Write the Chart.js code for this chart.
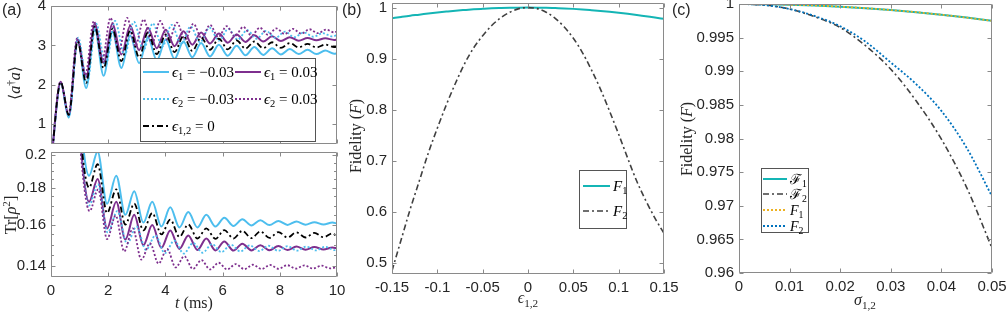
<!DOCTYPE html>
<html>
<head>
<meta charset="utf-8">
<script src="https://cdn.jsdelivr.net/npm/chart.js@4.4.1/dist/chart.umd.min.js"></script>
<style>
  body { margin: 0; background: #fff; }
  #wrap { position: relative; width: 1007px; height: 314px; overflow: hidden; }
  canvas { position: absolute; }
</style>
</head>
<body>
<div id="wrap">
  <canvas id="a1" width="345" height="150" style="left:0;top:0"></canvas>
  <canvas id="a2" width="345" height="169" style="left:0;top:145px"></canvas>
  <canvas id="b" width="340" height="314" style="left:340px;top:0"></canvas>
  <canvas id="c" width="337" height="314" style="left:670px;top:0"></canvas>
</div>
<script>
// ---- panel (a), top: <a†a> extrema ----
const tSolid = [0, 0.34, 0.62, 0.93, 1.23, 1.53, 1.84, 2.15, 2.46, 2.77, 3.08, 3.39, 3.70, 4.01, 4.32, 4.63, 4.94, 5.25, 5.56, 5.87, 6.18, 6.49, 6.80, 7.11, 7.42, 7.73, 8.04, 8.35, 8.66, 8.97, 9.28, 9.59, 9.90, 10];
const nEps1Neg = [0, 2.05, 1.17, 3.15, 1.92, 3.42, 2.23, 3.35, 2.43, 3.25, 2.55, 3.20, 2.62, 3.15, 2.66, 3.10, 2.70, 3.06, 2.72, 3.02, 2.74, 2.99, 2.75, 2.96, 2.76, 2.93, 2.77, 2.91, 2.78, 2.89, 2.78, 2.87, 2.79, 2.80];
const nEps1Pos = [0, 2.08, 1.23, 3.15, 2.20, 3.55, 2.56, 3.55, 2.77, 3.50, 2.88, 3.45, 2.93, 3.40, 2.98, 3.36, 3.02, 3.33, 3.05, 3.30, 3.07, 3.28, 3.09, 3.26, 3.10, 3.23, 3.11, 3.21, 3.12, 3.19, 3.13, 3.18, 3.14, 3.15];
const nEps0 = [0, 2.07, 1.24, 3.10, 2.05, 3.48, 2.42, 3.42, 2.60, 3.38, 2.70, 3.33, 2.78, 3.28, 2.83, 3.24, 2.86, 3.20, 2.89, 3.17, 2.90, 3.13, 2.92, 3.10, 2.93, 3.08, 2.94, 3.06, 2.95, 3.04, 2.95, 3.02, 2.96, 2.97];
const tEps2Neg = [0, 0.34, 0.62, 0.95, 1.26, 1.58, 1.91, 2.24, 2.57, 2.90, 3.23, 3.56, 3.89, 4.22, 4.55, 4.88, 5.21, 5.54, 5.87, 6.20, 6.53, 6.86, 7.19, 7.52, 7.85, 8.18, 8.51, 8.84, 9.17, 9.50, 9.83, 10];
const nEps2Neg = [0, 2.07, 1.20, 3.20, 2.05, 3.55, 2.50, 3.62, 2.75, 3.60, 2.88, 3.56, 2.97, 3.52, 3.03, 3.48, 3.08, 3.45, 3.12, 3.42, 3.15, 3.39, 3.17, 3.37, 3.19, 3.35, 3.21, 3.33, 3.22, 3.31, 3.23, 3.26];
const tEps2Pos = [0, 0.33, 0.61, 0.91, 1.20, 1.50, 1.79, 2.08, 2.37, 2.66, 2.95, 3.24, 3.53, 3.82, 4.11, 4.40, 4.69, 4.98, 5.27, 5.56, 5.85, 6.14, 6.43, 6.72, 7.01, 7.30, 7.59, 7.88, 8.17, 8.46, 8.75, 9.04, 9.33, 9.62, 9.91, 10];
const nEps2Pos = [0, 2.08, 1.25, 3.18, 2.25, 3.62, 2.62, 3.70, 2.85, 3.70, 2.98, 3.66, 3.05, 3.62, 3.10, 3.58, 3.15, 3.55, 3.18, 3.52, 3.21, 3.49, 3.23, 3.47, 3.25, 3.45, 3.27, 3.43, 3.29, 3.42, 3.30, 3.41, 3.31, 3.40, 3.33, 3.36];

// ---- panel (a), bottom: Tr[rho^2] ----
const uSolid = [0, 0.5, 1.0, 1.33, 1.63, 1.96, 2.28, 2.60, 2.91, 3.23, 3.54, 3.86, 4.17, 4.49, 4.80, 5.12, 5.43, 5.75, 6.06, 6.38, 6.69, 7.01, 7.32, 7.64, 7.95, 8.27, 8.58, 8.90, 9.21, 9.53, 9.84, 10];
const pEps1Neg = [1.0, 0.45, 0.23, 0.187, 0.202, 0.171, 0.187, 0.165, 0.178, 0.161, 0.172, 0.159, 0.169, 0.1585, 0.1665, 0.1585, 0.165, 0.159, 0.1635, 0.1593, 0.1627, 0.1595, 0.1622, 0.1597, 0.1618, 0.1598, 0.1615, 0.1599, 0.1612, 0.16, 0.161, 0.1605];
const pEps0 = [1.0, 0.45, 0.22, 0.180, 0.194, 0.166, 0.179, 0.160, 0.171, 0.157, 0.166, 0.155, 0.1625, 0.1538, 0.160, 0.153, 0.158, 0.1528, 0.1572, 0.153, 0.1568, 0.1532, 0.1565, 0.1533, 0.1562, 0.1535, 0.156, 0.1535, 0.1558, 0.1536, 0.1555, 0.154];
const pEps1Pos = [1.0, 0.45, 0.215, 0.172, 0.185, 0.158, 0.172, 0.1525, 0.165, 0.1498, 0.1597, 0.1485, 0.157, 0.148, 0.1545, 0.1475, 0.153, 0.1473, 0.1515, 0.1472, 0.1505, 0.1473, 0.1498, 0.1474, 0.1494, 0.1475, 0.1491, 0.1476, 0.1489, 0.1477, 0.1487, 0.1482];
const uEps2Neg = [0, 0.5, 1.0, 1.33, 1.64, 1.98, 2.32, 2.66, 2.99, 3.32, 3.65, 3.98, 4.31, 4.64, 4.97, 5.30, 5.63, 5.96, 6.29, 6.62, 6.95, 7.28, 7.61, 7.94, 8.27, 8.60, 8.93, 9.26, 9.59, 9.92, 10];
const pEps2Neg = [1.0, 0.45, 0.215, 0.170, 0.182, 0.156, 0.167, 0.1505, 0.159, 0.1475, 0.1545, 0.146, 0.152, 0.1458, 0.1508, 0.1462, 0.1503, 0.1465, 0.150, 0.1468, 0.1497, 0.147, 0.1495, 0.1471, 0.1493, 0.1472, 0.1491, 0.1473, 0.149, 0.1474, 0.1478];
const uEps2Pos = [0, 0.5, 1.0, 1.35, 1.65, 1.96, 2.26, 2.56, 2.86, 3.16, 3.46, 3.76, 4.06, 4.36, 4.66, 4.96, 5.26, 5.56, 5.86, 6.16, 6.46, 6.76, 7.06, 7.36, 7.66, 7.96, 8.26, 8.56, 8.86, 9.16, 9.46, 9.76, 10];
const pEps2Pos = [1.0, 0.45, 0.21, 0.167, 0.179, 0.1527, 0.1646, 0.1468, 0.158, 0.143, 0.1507, 0.1412, 0.148, 0.1395, 0.1446, 0.1388, 0.1428, 0.1386, 0.1416, 0.1386, 0.141, 0.1387, 0.1407, 0.1388, 0.1406, 0.1389, 0.1405, 0.139, 0.1404, 0.139, 0.1403, 0.1391, 0.1396];

// ---- panel (b) ----
const eps12 = [-0.15, -0.14, -0.13, -0.12, -0.11, -0.10, -0.09, -0.08, -0.07, -0.06, -0.05, -0.04, -0.03, -0.02, -0.01, 0, 0.01, 0.02, 0.03, 0.04, 0.05, 0.06, 0.07, 0.08, 0.09, 0.10, 0.11, 0.12, 0.13, 0.14, 0.15];
const fidB1 = [0.979, 0.9817, 0.9842, 0.9862, 0.9884, 0.9904, 0.9922, 0.9939, 0.9953, 0.9966, 0.9976, 0.9985, 0.9991, 0.9996, 0.9999, 1, 0.9999, 0.9996, 0.999, 0.9984, 0.9975, 0.9964, 0.995, 0.9935, 0.9918, 0.9899, 0.9878, 0.9855, 0.983, 0.9806, 0.978];
const fidB2 = [0.485, 0.545, 0.605, 0.66, 0.715, 0.764, 0.81, 0.852, 0.89, 0.921, 0.945, 0.965, 0.98, 0.991, 0.998, 1.0, 0.998, 0.991, 0.979, 0.962, 0.94, 0.912, 0.878, 0.84, 0.797, 0.752, 0.705, 0.66, 0.622, 0.588, 0.558];

// ---- panel (c) ----
const sig12 = [0, 0.005, 0.01, 0.015, 0.02, 0.025, 0.03, 0.035, 0.04, 0.045, 0.05];
const fidCcal1 = [1, 0.99998, 0.9999, 0.99978, 0.9996, 0.99938, 0.9991, 0.99878, 0.9984, 0.99798, 0.9975];
const fidCcal2 = [1, 0.99985, 0.99925, 0.9981, 0.9965, 0.9938, 0.9903, 0.9856, 0.9799, 0.9727, 0.9637];
const fidC1 = [1, 0.99998, 0.9999, 0.99978, 0.9996, 0.99938, 0.9991, 0.99878, 0.9984, 0.99798, 0.9975];
const fidC2 = [1, 0.99985, 0.99925, 0.9982, 0.9967, 0.9944, 0.9913, 0.9881, 0.9841, 0.9786, 0.9714];

// ---- ticks ----
const xTicksA = [0, 2, 4, 6, 8, 10];
const yTicksA1 = [1, 2, 3, 4];
const yTicksA2 = [0.14, 0.16, 0.18, 0.2];
const yMinorA2 = [0.145, 0.15, 0.155, 0.165, 0.17, 0.175, 0.185, 0.19, 0.195];
const xTicksB = [-0.15, -0.1, -0.05, 0, 0.05, 0.1, 0.15];
const yTicksB = [0.5, 0.6, 0.7, 0.8, 0.9, 1];
const xTicksC = [0, 0.01, 0.02, 0.03, 0.04, 0.05];
const yTicksC = [0.96, 0.965, 0.97, 0.975, 0.98, 0.985, 0.99, 0.995, 1];

const SANS = "'Liberation Sans', Arial, sans-serif";
const SERIF = "'Liberation Serif', 'DejaVu Serif', serif";
const LIGHTBLUE = '#4DBEEE', PURPLE = '#7E2F8E', TEAL = '#14B5B5', GREY = '#404040';

// rich text: parts are [text, style]; n normal, i italic, s subscript, u superscript
function partFont(style, size) {
  const s = (style === 's' || style === 'u') ? size * 0.7 : size;
  return (style === 'i' ? 'italic ' : '') + s + 'px ' + SERIF;
}
function richWidth(ctx, parts, size) {
  let w = 0;
  parts.forEach(([t, st]) => { ctx.font = partFont(st, size); w += ctx.measureText(t).width; });
  return w;
}
function drawRich(ctx, parts, x, y, size, align) {
  let cx = align === 'center' ? x - richWidth(ctx, parts, size) / 2 : x;
  const base = y + size * 0.33;
  ctx.textAlign = 'left';
  ctx.textBaseline = 'alphabetic';
  parts.forEach(([t, st]) => {
    ctx.font = partFont(st, size);
    const dy = st === 's' ? size * 0.22 : st === 'u' ? -size * 0.4 : 0;
    ctx.fillText(t, cx, base + dy);
    cx += ctx.measureText(t).width;
  });
}

const frameTicks = {
  id: 'frameTicks',
  afterDraw(chart, args, o) {
    const { ctx, chartArea: a } = chart;
    const xs = chart.scales.x, ys = chart.scales.y;
    ctx.save();
    const L = Math.round(a.left) + 0.5, R = Math.round(a.right) - 0.5;
    const T = Math.round(a.top) + 0.5, B = Math.round(a.bottom) - 0.5;
    ctx.strokeStyle = '#8a8a8a';
    ctx.lineWidth = 1;
    ctx.setLineDash([]);
    ctx.beginPath();
    ctx.rect(L, T, R - L, B - T);
    xs.ticks.forEach(t => {
      const p = Math.round(xs.getPixelForValue(t.value)) + 0.5;
      ctx.moveTo(p, B); ctx.lineTo(p, B - 4);
      ctx.moveTo(p, T); ctx.lineTo(p, T + 4);
    });
    ys.ticks.forEach(t => {
      const p = Math.round(ys.getPixelForValue(t.value)) + 0.5;
      ctx.moveTo(L, p); ctx.lineTo(L + 4, p);
      ctx.moveTo(R, p); ctx.lineTo(R - 4, p);
    });
    (o.yMinor || []).forEach(v => {
      const p = Math.round(ys.getPixelForValue(v)) + 0.5;
      ctx.moveTo(L, p); ctx.lineTo(L + 2.5, p);
      ctx.moveTo(R, p); ctx.lineTo(R - 2.5, p);
    });
    ctx.stroke();

    ctx.fillStyle = '#262626';
    ctx.font = '15px ' + SANS;
    if (o.xLabels) {
      ctx.textAlign = 'center';
      ctx.textBaseline = 'top';
      xs.ticks.forEach(t => ctx.fillText(String(t.value), xs.getPixelForValue(t.value), a.bottom + 6));
    }
    ctx.textAlign = 'right';
    ctx.textBaseline = 'middle';
    ys.ticks.forEach(t => ctx.fillText(String(t.value), a.left - 5, ys.getPixelForValue(t.value)));

    if (o.tag) {
      ctx.font = '16px ' + SANS;
      ctx.textAlign = 'left';
      ctx.textBaseline = 'top';
      ctx.fillText(o.tag, 2, 3);
    }
    (o.titles || []).forEach(ti => {
      ctx.save();
      ctx.translate(ti.x, ti.y);
      if (ti.rot) ctx.rotate(-Math.PI / 2);
      drawRich(ctx, ti.parts, 0, 0, ti.size || 16, 'center');
      ctx.restore();
    });

    if (o.legend) {
      const lg = o.legend, bx = lg.box;
      ctx.fillStyle = '#fff';
      ctx.fillRect(bx[0], bx[1], bx[2] - bx[0], bx[3] - bx[1]);
      ctx.strokeStyle = '#555';
      ctx.strokeRect(bx[0] + 0.5, bx[1] + 0.5, bx[2] - bx[0], bx[3] - bx[1]);
      lg.items.forEach(it => {
        const ds = chart.data.datasets[it.ds];
        ctx.strokeStyle = ds.borderColor;
        ctx.lineWidth = ds.borderWidth;
        ctx.setLineDash(ds.borderDash || []);
        ctx.beginPath();
        ctx.moveTo(it.x, it.y);
        ctx.lineTo(it.x + lg.len, it.y);
        ctx.stroke();
        ctx.setLineDash([]);
        ctx.fillStyle = '#000';
        drawRich(ctx, ds.rich, it.x + lg.len + 3, it.y, lg.size || 15, 'left');
      });
    }
    ctx.restore();
  }
};

function series(ts, vs, color, width, dash, order, rich) {
  return {
    data: ts.map((t, i) => ({ x: t, y: vs[i] })),
    borderColor: color, borderWidth: width, borderDash: dash,
    order: order, fill: false, clip: 0, rich: rich
  };
}

function panel(id, area, datasets, xAxis, yAxis, extra) {
  const cv = document.getElementById(id);
  const W = cv.width, H = cv.height;
  return new Chart(cv, {
    type: 'line',
    data: { datasets },
    options: {
      responsive: false, animation: false, devicePixelRatio: 1,
      layout: { padding: { left: 0, top: area[1], right: W - area[2], bottom: 0 } },
      elements: { point: { radius: 0 }, line: { cubicInterpolationMode: 'monotone' } },
      plugins: { legend: { display: false }, tooltip: { enabled: false }, frameTicks: extra },
      scales: {
        x: {
          type: 'linear', min: xAxis.min, max: xAxis.max,
          grid: { display: false }, border: { display: false }, ticks: { display: false },
          afterBuildTicks: s => { s.ticks = xAxis.ticks.map(v => ({ value: v })); },
          afterFit: s => { s.height = H - area[3]; }
        },
        y: {
          type: yAxis.type || 'linear', min: yAxis.min, max: yAxis.max,
          grid: { display: false }, border: { display: false }, ticks: { display: false },
          afterBuildTicks: s => { s.ticks = yAxis.ticks.map(v => ({ value: v })); },
          afterFit: s => { s.width = area[0]; }
        }
      }
    },
    plugins: [frameTicks]
  });
}

const DOT = [2, 2], DASHDOT = [6, 3, 2, 3];
const lblE1n = [['ϵ', 'i'], ['1', 's'], [' = −0.03', 'n']];
const lblE1p = [['ϵ', 'i'], ['1', 's'], [' = 0.03', 'n']];
const lblE2n = [['ϵ', 'i'], ['2', 's'], [' = −0.03', 'n']];
const lblE2p = [['ϵ', 'i'], ['2', 's'], [' = 0.03', 'n']];
const lblE0 = [['ϵ', 'i'], ['1,2', 's'], [' = 0', 'n']];

panel('a1', [51, 6, 337, 144], [
  series(tSolid, nEps1Neg, LIGHTBLUE, 2, [], 4, lblE1n),
  series(tSolid, nEps1Pos, PURPLE, 2, [], 3, lblE1p),
  series(tEps2Neg, nEps2Neg, LIGHTBLUE, 1.8, DOT, 2, lblE2n),
  series(tEps2Pos, nEps2Pos, PURPLE, 1.8, DOT, 1, lblE2p),
  series(tSolid, nEps0, '#000', 1.8, DASHDOT, 0, lblE0)
], { min: 0, max: 10, ticks: xTicksA }, { min: 0.5, max: 4, ticks: yTicksA1 }, {
  tag: '(a)',
  titles: [{ x: 15, y: 83, rot: true, size: 16, parts: [['⟨', 'n'], ['a', 'i'], ['†', 'u'], ['a', 'i'], ['⟩', 'n']] }],
  legend: {
    box: [140, 58, 315, 141], len: 26, size: 15,
    items: [{ ds: 0, x: 143, y: 72 }, { ds: 1, x: 235, y: 72 }, { ds: 2, x: 143, y: 99 }, { ds: 3, x: 235, y: 99 }, { ds: 4, x: 143, y: 126 }]
  }
});

panel('a2', [51, 7, 337, 132], [
  series(uSolid, pEps1Neg, LIGHTBLUE, 2, [], 4),
  series(uSolid, pEps1Pos, PURPLE, 2, [], 3),
  series(uEps2Neg, pEps2Neg, LIGHTBLUE, 1.8, DOT, 2),
  series(uEps2Pos, pEps2Pos, PURPLE, 1.8, DOT, 1),
  series(uSolid, pEps0, '#000', 1.8, DASHDOT, 0)
], { min: 0, max: 10, ticks: xTicksA }, { type: 'logarithmic', min: 0.1353, max: 0.2017, ticks: yTicksA2 }, {
  xLabels: true, yMinor: yMinorA2,
  titles: [
    { x: 11, y: 70, rot: true, size: 16, parts: [['Tr[', 'n'], ['ρ', 'i'], ['2', 'u'], [']', 'n']] },
    { x: 194, y: 158, size: 16, parts: [['t', 'i'], [' (ms)', 'n']] }
  ]
});

panel('b', [52, 3, 324, 274], [
  series(eps12, fidB1, TEAL, 2, [], 1, [['F', 'i'], ['1', 's']]),
  series(eps12, fidB2, GREY, 1.6, DASHDOT, 0, [['F', 'i'], ['2', 's']])
], { min: -0.15, max: 0.15, ticks: xTicksB }, { min: 0.4785, max: 1.009, ticks: yTicksB }, {
  xLabels: true, tag: '(b)',
  titles: [
    { x: 16, y: 136, rot: true, size: 16, parts: [['Fidelity (', 'n'], ['F', 'i'], [')', 'n']] },
    { x: 188, y: 298, size: 16, parts: [['ϵ', 'i'], ['1,2', 's']] }
  ],
  legend: { box: [239, 170, 286, 228], len: 27, size: 15, items: [{ ds: 0, x: 243, y: 186 }, { ds: 1, x: 243, y: 211 }] }
});

panel('c', [69, 4, 322, 273], [
  series(sig12, fidCcal1, TEAL, 2, [], 3, [['ℱ', 'n'], ['1', 's']]),
  series(sig12, fidCcal2, GREY, 1.6, DASHDOT, 2, [['ℱ', 'n'], ['2', 's']]),
  series(sig12, fidC1, '#EDB120', 1.8, DOT, 1, [['F', 'i'], ['1', 's']]),
  series(sig12, fidC2, '#0072BD', 1.8, DOT, 0, [['F', 'i'], ['2', 's']])
], { min: 0, max: 0.05, ticks: xTicksC }, { min: 0.96, max: 1, ticks: yTicksC }, {
  xLabels: true, tag: '(c)',
  titles: [
    { x: 17, y: 139, rot: true, size: 16, parts: [['Fidelity (', 'n'], ['F', 'i'], [')', 'n']] },
    { x: 195, y: 300, size: 16, parts: [['σ', 'i'], ['1,2', 's']] }
  ],
  legend: {
    box: [91, 168, 138, 232], len: 24, size: 14,
    items: [{ ds: 0, x: 93, y: 179 }, { ds: 1, x: 93, y: 194 }, { ds: 2, x: 93, y: 210 }, { ds: 3, x: 93, y: 226 }]
  }
});
</script>
</body>
</html>
